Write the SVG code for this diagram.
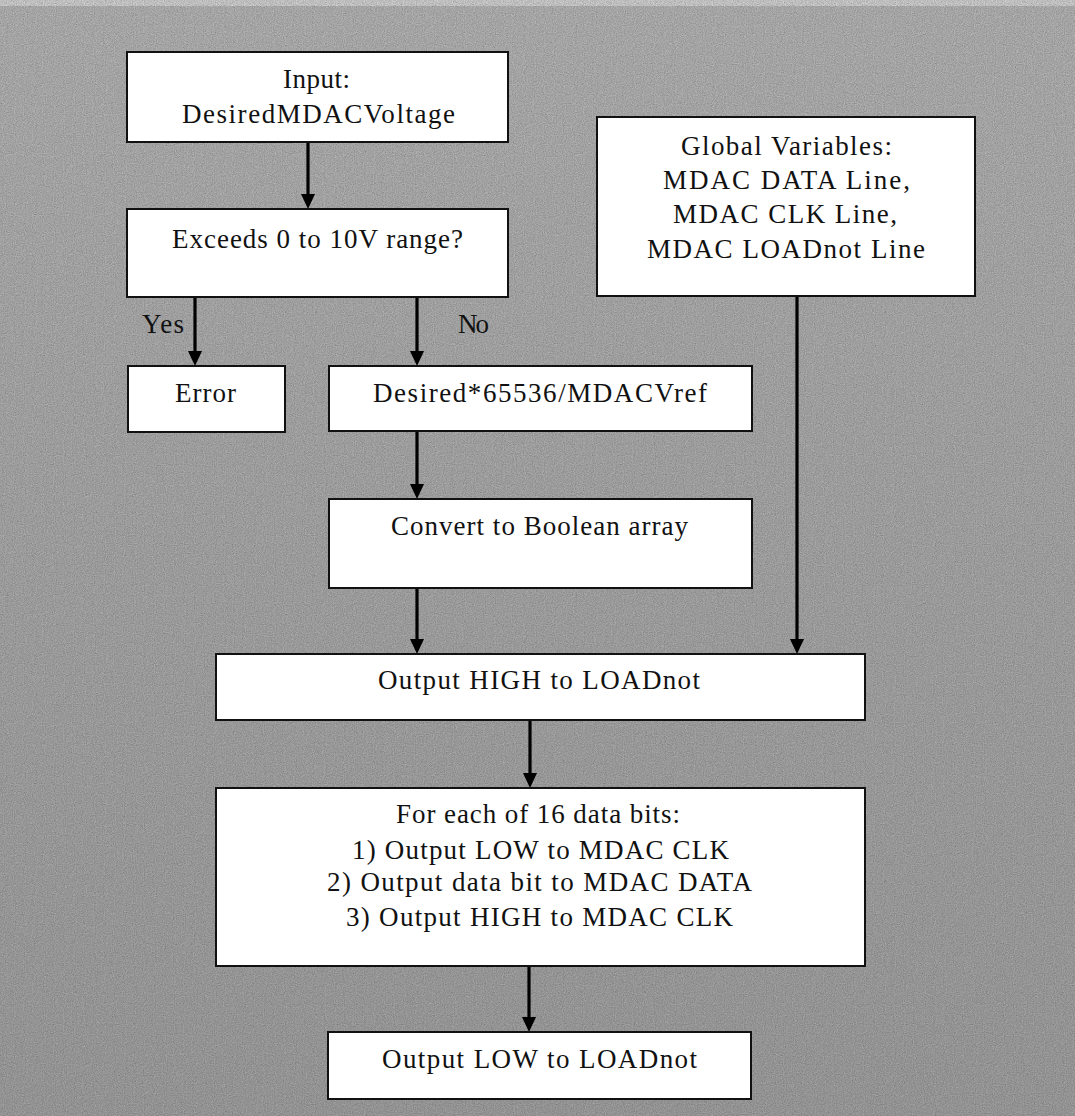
<svg xmlns="http://www.w3.org/2000/svg" width="1075" height="1116" viewBox="0 0 1075 1116">
<defs>
<linearGradient id="bg" x1="0" y1="0" x2="0" y2="1">
<stop offset="0" stop-color="#b4b4b4"/>
<stop offset="0.5" stop-color="#a9a9a9"/>
<stop offset="1" stop-color="#a0a0a0"/>
</linearGradient>
<filter id="noise" x="0" y="0" width="100%" height="100%">
<feTurbulence type="fractalNoise" baseFrequency="0.9" numOctaves="2" seed="3"/>
<feColorMatrix type="matrix" values="0 0 0 0 0  0 0 0 0 0  0 0 0 0 0  0.33 0.33 0.33 0 -0.35"/>
</filter>
<marker id="arr" viewBox="0 0 14 14" refX="7" refY="14" markerWidth="14" markerHeight="14" markerUnits="userSpaceOnUse" orient="auto-start-reverse">
<path d="M0,0 L14,0 L7,14 Z" fill="#000"/>
</marker>
</defs>
<style>
.box{fill:#fff;stroke:#111;stroke-width:2}
.t{font-family:"Liberation Serif","Times New Roman",serif;font-size:27px;fill:#111;text-anchor:middle}
.c{stroke:#000;stroke-width:3.2;fill:none}
</style>
<rect width="1075" height="1116" fill="url(#bg)"/>
<rect x="0" y="0" width="1075" height="6" fill="#d0d0d0"/>
<rect width="1075" height="1116" filter="url(#noise)" opacity="0.6"/>

<g id="connectors">
<line class="c" x1="308" y1="143" x2="308" y2="195"/>
<path d="M301,194 L315,194 L308,209 Z"/>
<line class="c" x1="195" y1="298" x2="195" y2="352"/>
<path d="M188,351 L202,351 L195,366 Z"/>
<line class="c" x1="417" y1="298" x2="417" y2="352"/>
<path d="M410,351 L424,351 L417,366 Z"/>
<line class="c" x1="417" y1="432" x2="417" y2="485"/>
<path d="M410,484 L424,484 L417,499 Z"/>
<line class="c" x1="417" y1="589" x2="417" y2="640"/>
<path d="M410,639 L424,639 L417,654 Z"/>
<line class="c" x1="797" y1="297" x2="797" y2="640"/>
<path d="M790,639 L804,639 L797,654 Z"/>
<line class="c" x1="530" y1="721" x2="530" y2="774"/>
<path d="M523,773 L537,773 L530,788 Z"/>
<line class="c" x1="529" y1="967" x2="529" y2="1018"/>
<path d="M522,1017 L536,1017 L529,1032 Z"/>
<text class="t" x="163" y="333" textLength="42" lengthAdjust="spacing">Yes</text>
<text class="t" x="473.5" y="333" textLength="31" lengthAdjust="spacing">No</text>
</g>

<g id="input">
<rect class="box" x="127" y="52" width="381" height="90"/>
<text class="t" x="316.5" y="88" textLength="67" lengthAdjust="spacing">Input:</text>
<text class="t" x="318.5" y="123" textLength="273" lengthAdjust="spacing">DesiredMDACVoltage</text>
</g>

<g id="decision">
<rect class="box" x="127" y="209" width="381" height="88"/>
<text class="t" x="317.5" y="248" textLength="291" lengthAdjust="spacing">Exceeds 0 to 10V range?</text>
</g>

<g id="globals">
<rect class="box" x="597" y="117" width="378" height="179"/>
<text class="t" x="786.5" y="155" textLength="211" lengthAdjust="spacing">Global Variables:</text>
<text class="t" x="786.5" y="189" textLength="247" lengthAdjust="spacing">MDAC DATA Line,</text>
<text class="t" x="785" y="223" textLength="224" lengthAdjust="spacing">MDAC CLK Line,</text>
<text class="t" x="786" y="258" textLength="278" lengthAdjust="spacing">MDAC LOADnot Line</text>
</g>

<g id="error">
<rect class="box" x="128" y="366" width="157" height="66"/>
<text class="t" x="205.5" y="402" textLength="61" lengthAdjust="spacing">Error</text>
</g>

<g id="scale">
<rect class="box" x="329" y="366" width="423" height="65"/>
<text class="t" x="540" y="402" textLength="334" lengthAdjust="spacing">Desired*65536/MDACVref</text>
</g>

<g id="convert">
<rect class="box" x="329" y="499" width="423" height="89"/>
<text class="t" x="539.5" y="535" textLength="297" lengthAdjust="spacing">Convert to Boolean array</text>
</g>

<g id="high">
<rect class="box" x="216" y="654" width="649" height="66"/>
<text class="t" x="539" y="689" textLength="322" lengthAdjust="spacing">Output HIGH to LOADnot</text>
</g>

<g id="loop">
<rect class="box" x="216" y="788" width="649" height="178"/>
<text class="t" x="538" y="823" textLength="284" lengthAdjust="spacing">For each of 16 data bits:</text>
<text class="t" x="540.5" y="859" textLength="377" lengthAdjust="spacing">1) Output LOW to MDAC CLK</text>
<text class="t" x="539.5" y="891" textLength="425" lengthAdjust="spacing">2) Output data bit to MDAC DATA</text>
<text class="t" x="539.5" y="926" textLength="387" lengthAdjust="spacing">3) Output HIGH to MDAC CLK</text>
</g>

<g id="low">
<rect class="box" x="328" y="1032" width="423" height="67"/>
<text class="t" x="539.5" y="1068" textLength="315" lengthAdjust="spacing">Output LOW to LOADnot</text>
</g>
</svg>
